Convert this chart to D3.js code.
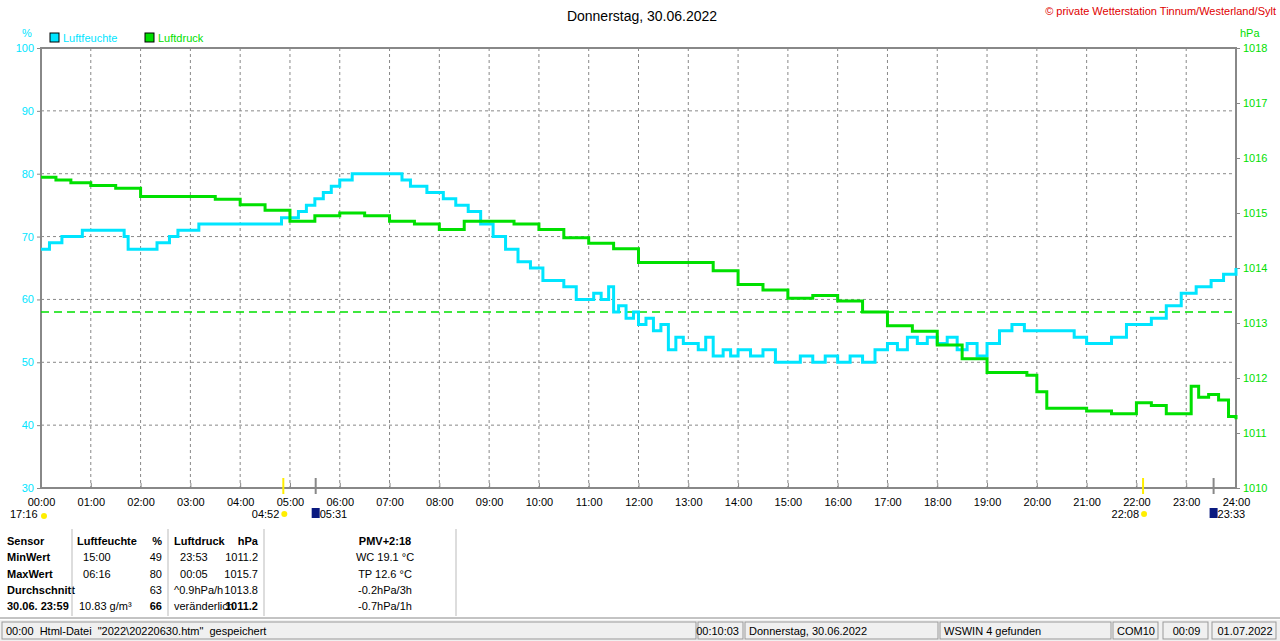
<!DOCTYPE html>
<html><head><meta charset="utf-8">
<script src="https://cdn.jsdelivr.net/npm/d3@7"></script>
<style>body{margin:0;background:#fff}svg{font-family:"Liberation Sans",Arial,sans-serif}</style>
</head><body><svg id="c" width="1280" height="641"></svg>
<script>
// humidity [hour, %]
var humT = [0,0.17,0.42,0.83,1.67,1.75,2.33,2.58,2.75,3.17,4.67,4.83,5.17,5.33,5.5,5.67,5.83,6,6.25,7.25,7.42,7.75,8.08,8.33,8.58,8.83,9.08,9.33,9.58,9.83,10.08,10.5,10.75,11.1,11.25,11.4,11.5,11.6,11.75,11.9,12,12.15,12.3,12.45,12.6,12.75,12.9,13,13.2,13.35,13.5,13.7,13.85,14,14.25,14.5,14.75,15,15.25,15.5,15.75,16,16.25,16.5,16.75,17,17.2,17.4,17.6,17.8,18,18.2,18.4,18.6,18.8,19,19.25,19.5,19.75,20,20.5,20.75,21,21.5,21.8,22.3,22.6,22.9,23.2,23.5,23.75,24]
var humV = [68,69,70,71,70,68,69,70,71,72,72,73,74,75,76,77,78,79,80,79,78,77,76,75,74,72,70,68,66,65,63,62,60,61,60,62,58,59,57,58,56,57,55,56,52,54,53,53,52,54,51,52,51,52,51,52,50,50,51,50,51,50,51,50,52,53,52,54,53,54,53,54,52,53,51,53,55,56,55,55,55,54,53,54,56,57,59,61,62,63,64,65]
// pressure [hour, hPa]
var prsT = [0,0.3,0.6,1,1.5,2,2.5,3,3.5,4,4.5,5,5.5,6,6.5,7,7.5,8,8.5,9,9.5,10,10.5,11,11.5,12,12.5,13,13.5,14,14.5,15,15.5,16,16.5,17,17.5,18,18.5,19,19.5,19.8,20,20.2,20.5,21,21.5,22,22.3,22.6,23,23.1,23.25,23.45,23.65,23.85,24]
var prsV = [1015.65,1015.6,1015.55,1015.5,1015.45,1015.3,1015.3,1015.3,1015.25,1015.15,1015.05,1014.85,1014.95,1015,1014.95,1014.85,1014.8,1014.7,1014.85,1014.85,1014.8,1014.7,1014.55,1014.45,1014.35,1014.1,1014.1,1014.1,1013.95,1013.7,1013.6,1013.45,1013.5,1013.4,1013.2,1012.95,1012.85,1012.6,1012.35,1012.1,1012.1,1012.05,1011.75,1011.45,1011.45,1011.4,1011.35,1011.55,1011.5,1011.35,1011.35,1011.85,1011.65,1011.7,1011.6,1011.3,1011.25]
var prsRef = 1013.2
var hourTicks = d3.range(0,25)
var humTicks = [30,40,50,60,70,80,90,100]
var prsTicks = d3.range(1010,1019)
var sunMarks = [{t:4+52/60,c:"#ffee00",lbl:"04:52"},{t:22+8/60,c:"#ffee00",lbl:"22:08"}]
var moonMarks = [{t:5+31/60,lbl:"05:31"},{t:23+33/60,lbl:"23:33"}]

var svg = d3.select("#c")
var L=41,R=1236,T=48,B=488
var x = d3.scaleLinear().domain([0,24]).range([L,R])
var yH = d3.scaleLinear().domain([30,100]).range([B,T])
var yP = d3.scaleLinear().domain([1010,1018]).range([B,T])
var grey="#888"

svg.append("text").attr("x",642).attr("y",21).attr("text-anchor","middle").attr("font-size",14).text("Donnerstag, 30.06.2022")
svg.append("text").attr("x",1276).attr("y",15).attr("text-anchor","end").attr("font-size",11).attr("fill","#e00000").text("© private Wetterstation Tinnum/Westerland/Sylt")
svg.append("text").attr("x",22).attr("y",37).attr("font-size",11).attr("fill","#00e5ff").text("%")
svg.append("text").attr("x",1240).attr("y",37).attr("font-size",11).attr("fill","#00e000").text("hPa")
var leg=[{n:"Luftfeuchte",c:"#00e5ff",x:50},{n:"Luftdruck",c:"#00e000",x:145}]
leg.forEach(function(l){
  svg.append("rect").attr("x",l.x).attr("y",33).attr("width",9).attr("height",9).attr("fill",l.c).attr("stroke","#000")
  svg.append("text").attr("x",l.x+13).attr("y",42).attr("font-size",11).attr("fill",l.c).text(l.n)
})

// grid
var g=svg.append("g")
g.selectAll(".gx").data(hourTicks.slice(1,24)).join("line").attr("x1",d=>x(d)).attr("x2",d=>x(d)).attr("y1",T).attr("y2",B)
  .attr("stroke",grey).attr("stroke-dasharray","3,3")
g.selectAll(".gy").data(humTicks.slice(1,7)).join("line").attr("x1",L).attr("x2",R).attr("y1",d=>yH(d)).attr("y2",d=>yH(d))
  .attr("stroke",grey).attr("stroke-dasharray","3,3")
g.append("rect").attr("x",L).attr("y",T).attr("width",R-L).attr("height",B-T).attr("fill","none").attr("stroke",grey).attr("stroke-width",2)

// axes
var ax=svg.append("g").attr("transform","translate(0,"+B+")").call(d3.axisBottom(x).tickValues(hourTicks).tickSize(5).tickFormat(d=>d3.format("02")(d)+":00"))
ax.select(".domain").remove()
ax.selectAll("line").attr("stroke",grey).attr("y1",-5).attr("y2",0)
ax.selectAll("text").attr("font-size",11).attr("font-family","Liberation Sans").attr("dy","0.9em")
var al=svg.append("g").attr("transform","translate("+L+",0)").call(d3.axisLeft(yH).tickValues(humTicks).tickSize(4))
al.select(".domain").remove(); al.selectAll("line").attr("stroke",grey)
al.selectAll("text").attr("fill","#00e5ff").attr("font-size",11).attr("font-family","Liberation Sans")
var ar=svg.append("g").attr("transform","translate("+R+",0)").call(d3.axisRight(yP).tickValues(prsTicks).tickSize(4).tickFormat(d3.format("d")))
ar.select(".domain").remove(); ar.selectAll("line").attr("stroke",grey)
ar.selectAll("text").attr("fill","#00e000").attr("font-size",11).attr("font-family","Liberation Sans")

// sun & moon
sunMarks.forEach(function(s){
  svg.append("line").attr("x1",x(s.t)).attr("x2",x(s.t)).attr("y1",B-10).attr("y2",B+6).attr("stroke",s.c).attr("stroke-width",2)
  svg.append("text").attr("x",x(s.t)-4).attr("y",B+30).attr("text-anchor","end").attr("font-size",11).text(s.lbl)
  svg.append("circle").attr("cx",x(s.t)+1).attr("cy",B+26).attr("r",3).attr("fill",s.c)
})
moonMarks.forEach(function(s){
  svg.append("line").attr("x1",x(s.t)).attr("x2",x(s.t)).attr("y1",B-10).attr("y2",B+6).attr("stroke",grey).attr("stroke-width",2)
  svg.append("rect").attr("x",x(s.t)-4).attr("y",B+20).attr("width",8).attr("height",10).attr("fill","#0a1a80")
  svg.append("text").attr("x",x(s.t)+4).attr("y",B+30).attr("font-size",11).text(s.lbl)
})
svg.append("text").attr("x",10).attr("y",B+30).attr("font-size",11).text("17:16")
svg.append("circle").attr("cx",44).attr("cy",B+28).attr("r",3).attr("fill","#ffee00")

// series
svg.append("line").attr("x1",L).attr("x2",R).attr("y1",yP(prsRef)).attr("y2",yP(prsRef)).attr("stroke","#00e000").attr("stroke-dasharray","8,5").attr("stroke-width",1.3)
var lh=d3.line().curve(d3.curveStepAfter).x(d=>x(d[0])).y(d=>yH(d[1]))
svg.append("path").datum(d3.zip(humT,humV)).attr("d",lh).attr("fill","none").attr("stroke","#00e5ff").attr("stroke-width",3)
var lp=d3.line().curve(d3.curveStepAfter).x(d=>x(d[0])).y(d=>yP(d[1]))
svg.append("path").datum(d3.zip(prsT,prsV)).attr("d",lp).attr("fill","none").attr("stroke","#00e000").attr("stroke-width",3)

// table
var rows=[["Sensor","Luftfeuchte","%","Luftdruck","hPa","PMV+2:18"],
 ["MinWert","  15:00","49","  23:53","1011.2","WC 19.1 °C"],
 ["MaxWert","  06:16","80","  00:05","1015.7","TP 12.6 °C"],
 ["Durchschnitt","","63","^0.9hPa/h","1013.8","-0.2hPa/3h"],
 ["30.06. 23:59","10.83 g/m³","66","veränderlich","1011.2","-0.7hPa/1h"]]
rows.forEach(function(r,i){
  var y=545+i*16.3, b=i==0
  function t(xx,s,anc,bold){svg.append("text").attr("x",xx).attr("y",y).attr("font-size",11).attr("text-anchor",anc||"start")
    .attr("font-weight",bold?"bold":"normal").attr("xml:space","preserve").text(s)}
  t(7,r[0],"start",true); t(i==4?79:77,r[1],"start",b); t(162,r[2],"end",b||i==4)
  t(174,r[3],"start",b); t(258,r[4],"end",b||i==4); t(385,r[5],"middle",b)
})
;[72,168,264,456].forEach(function(xx){svg.append("line").attr("x1",xx).attr("x2",xx).attr("y1",529).attr("y2",616).attr("stroke","#bbb")})
svg.append("line").attr("x1",0).attr("x2",1280).attr("y1",618).attr("y2",618).attr("stroke",grey)
// status bar
svg.append("rect").attr("x",0).attr("y",620).attr("width",1280).attr("height",21).attr("fill","#f0f0f0")
var cells=[[2,698,"00:00  Html-Datei  \"2022\\20220630.htm\"  gespeichert","start"],[698,745,"00:10:03","end"],[745,940,"Donnerstag, 30.06.2022","start"],
 [940,1113,"WSWIN 4 gefunden","start"],[1113,1160,"COM10","start"],[1163,1210,"00:09","middle"],[1212,1278,"01.07.2022","middle"]]
cells.forEach(function(c){
  svg.append("rect").attr("x",c[0]).attr("y",622).attr("width",c[1]-c[0]-2).attr("height",17).attr("fill","none").attr("stroke","#999")
  var tx=c[3]=="start"?c[0]+4:c[3]=="end"?c[1]-6:(c[0]+c[1])/2
  svg.append("text").attr("x",tx).attr("y",635).attr("font-size",11).attr("text-anchor",c[3]).attr("xml:space","preserve").text(c[2])
})
</script></body></html>
